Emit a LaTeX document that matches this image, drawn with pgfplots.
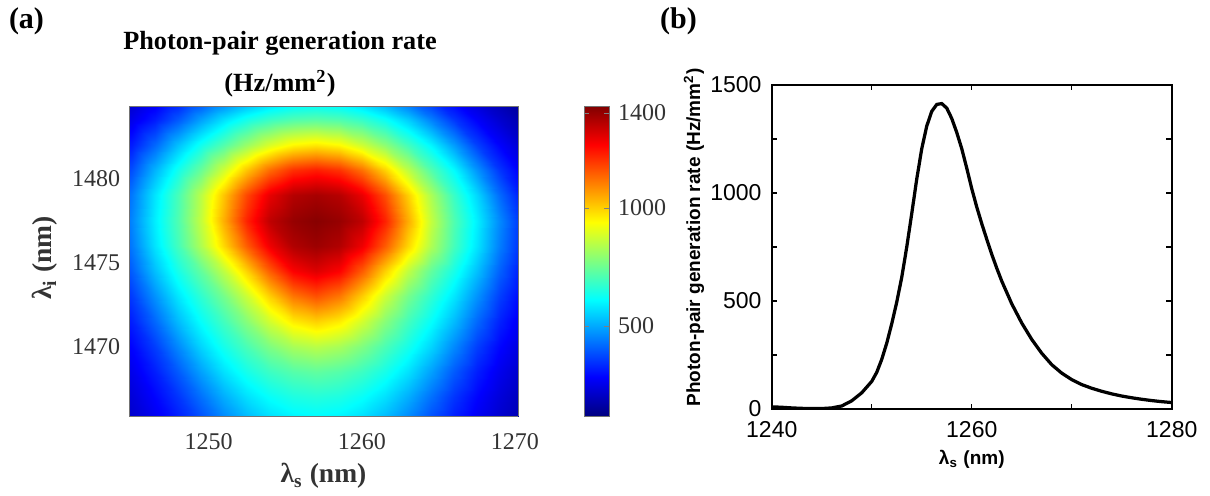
\documentclass[border=0pt]{standalone}
\usepackage{fontspec}
\setmainfont{Liberation Serif}
\newfontfamily\arial{Liberation Sans}
\usepackage{pgfplots}
\pgfplotsset{compat=1.18}
\pgfplotstableread{
x y z
1243.5 1465.5 176
1245 1465.5 216
1246.5 1465.5 261
1248 1465.5 313
1249.5 1465.5 375
1251 1465.5 447
1252.5 1465.5 509
1254 1465.5 557
1255.5 1465.5 583
1257 1465.5 592
1258.5 1465.5 583
1260 1465.5 557
1261.5 1465.5 509
1263 1465.5 447
1264.5 1465.5 375
1266 1465.5 313
1267.5 1465.5 261
1269 1465.5 216
1270.5 1465.5 176
1243.5 1467 191
1245 1467 235
1246.5 1467 287
1248 1467 350
1249.5 1467 428
1251 1467 507
1252.5 1467 572
1254 1467 618
1255.5 1467 647
1257 1467 657
1258.5 1467 647
1260 1467 618
1261.5 1467 572
1263 1467 507
1264.5 1467 428
1266 1467 350
1267.5 1467 287
1269 1467 235
1270.5 1467 191
1243.5 1468.5 210
1245 1468.5 259
1246.5 1468.5 320
1248 1468.5 399
1249.5 1468.5 490
1251 1468.5 574
1252.5 1468.5 638
1254 1468.5 687
1255.5 1468.5 719
1257 1468.5 734
1258.5 1468.5 719
1260 1468.5 687
1261.5 1468.5 638
1263 1468.5 574
1264.5 1468.5 490
1266 1468.5 399
1267.5 1468.5 320
1269 1468.5 259
1270.5 1468.5 210
1243.5 1470 231
1245 1470 288
1246.5 1470 362
1248 1470 459
1249.5 1470 557
1251 1470 637
1252.5 1470 705
1254 1470 772
1255.5 1470 824
1257 1470 846
1258.5 1470 824
1260 1470 772
1261.5 1470 705
1263 1470 637
1264.5 1470 557
1266 1470 459
1267.5 1470 362
1269 1470 288
1270.5 1470 231
1243.5 1471.5 254
1245 1471.5 323
1246.5 1471.5 416
1248 1471.5 523
1249.5 1471.5 615
1251 1471.5 695
1252.5 1471.5 783
1254 1471.5 879
1255.5 1471.5 960
1257 1471.5 994
1258.5 1471.5 960
1260 1471.5 879
1261.5 1471.5 783
1263 1471.5 695
1264.5 1471.5 615
1266 1471.5 523
1267.5 1471.5 416
1269 1471.5 323
1270.5 1471.5 254
1243.5 1473 281
1245 1473 362
1246.5 1473 472
1248 1473 581
1249.5 1473 671
1251 1473 762
1252.5 1473 874
1254 1473 1003
1255.5 1473 1115
1257 1473 1163
1258.5 1473 1115
1260 1473 1003
1261.5 1473 874
1263 1473 762
1264.5 1473 671
1266 1473 581
1267.5 1473 472
1269 1473 362
1270.5 1473 281
1243.5 1474.5 305
1245 1474.5 406
1246.5 1474.5 530
1248 1474.5 640
1249.5 1474.5 737
1251 1474.5 857
1252.5 1474.5 999
1254 1474.5 1150
1255.5 1474.5 1269
1257 1474.5 1309
1258.5 1474.5 1269
1260 1474.5 1150
1261.5 1474.5 999
1263 1474.5 857
1264.5 1474.5 737
1266 1474.5 640
1267.5 1474.5 530
1269 1474.5 406
1270.5 1474.5 305
1243.5 1476 328
1245 1476 443
1246.5 1476 578
1248 1476 698
1249.5 1476 835
1251 1476 990
1252.5 1476 1150
1254 1476 1287
1255.5 1476 1367
1257 1476 1393
1258.5 1476 1367
1260 1476 1287
1261.5 1476 1150
1263 1476 990
1264.5 1476 835
1266 1476 698
1267.5 1476 578
1269 1476 443
1270.5 1476 328
1243.5 1477.5 337
1245 1477.5 458
1246.5 1477.5 592
1248 1477.5 712
1249.5 1477.5 862
1251 1477.5 1045
1252.5 1477.5 1225
1254 1477.5 1350
1255.5 1477.5 1401
1257 1477.5 1420
1258.5 1477.5 1401
1260 1477.5 1350
1261.5 1477.5 1225
1263 1477.5 1045
1264.5 1477.5 862
1266 1477.5 712
1267.5 1477.5 592
1269 1477.5 458
1270.5 1477.5 337
1243.5 1479 325
1245 1479 441
1246.5 1479 579
1248 1479 703
1249.5 1479 850
1251 1479 1015
1252.5 1479 1178
1254 1479 1298
1255.5 1479 1362
1257 1479 1380
1258.5 1479 1361
1260 1479 1294
1261.5 1479 1168
1263 1479 1000
1264.5 1479 831
1266 1479 683
1267.5 1479 560
1269 1479 418
1270.5 1479 306
1243.5 1480.5 294
1245 1480.5 386
1246.5 1480.5 515
1248 1480.5 635
1249.5 1480.5 745
1251 1480.5 879
1252.5 1480.5 1016
1254 1480.5 1131
1255.5 1480.5 1206
1257 1480.5 1230
1258.5 1480.5 1203
1260 1480.5 1122
1261.5 1480.5 997
1263 1480.5 853
1264.5 1480.5 717
1266 1480.5 608
1267.5 1480.5 473
1269 1480.5 349
1270.5 1480.5 265
1243.5 1482 251
1245 1482 320
1246.5 1482 417
1248 1482 531
1249.5 1482 632
1251 1482 718
1252.5 1482 809
1254 1482 891
1255.5 1482 948
1257 1482 968
1258.5 1482 944
1260 1482 875
1261.5 1482 792
1263 1482 695
1264.5 1482 600
1266 1482 485
1267.5 1482 365
1269 1482 281
1270.5 1482 218
1243.5 1483.5 207
1245 1483.5 255
1246.5 1483.5 315
1248 1483.5 394
1249.5 1483.5 487
1251 1483.5 570
1252.5 1483.5 635
1254 1483.5 681
1255.5 1483.5 710
1257 1483.5 720
1258.5 1483.5 708
1260 1483.5 674
1261.5 1483.5 619
1263 1483.5 543
1264.5 1483.5 446
1266 1483.5 350
1267.5 1483.5 277
1269 1483.5 220
1270.5 1483.5 173
1243.5 1485 163
1245 1485 199
1246.5 1485 239
1248 1485 284
1249.5 1485 336
1251 1485 392
1252.5 1485 449
1254 1485 494
1255.5 1485 522
1257 1485 531
1258.5 1485 520
1260 1485 486
1261.5 1485 432
1263 1485 365
1264.5 1485 304
1266 1485 252
1267.5 1485 207
1269 1485 166
1270.5 1485 131
}\maptable
\pgfplotstableread{
x y
1240 10
1241 8
1242 5
1243 3
1244 2
1245 2
1246 5
1247 14
1248 38
1249 75
1250 128
1250.5 170
1251 230
1251.5 305
1252 395
1252.5 495
1253 610
1253.5 750
1254 905
1254.5 1065
1255 1205
1255.5 1310
1256 1378
1256.5 1410
1257 1414
1257.5 1393
1258 1345
1258.5 1280
1259 1205
1259.5 1115
1260 1020
1260.5 935
1261 858
1261.5 786
1262 716
1262.5 652
1263 592
1264 487
1265 398
1266 322
1267 258
1268 205
1269 166
1270 136
1271 113
1272 96
1273 82
1274 70
1275 60
1276 52
1277 45
1278 39
1279 34
1280 30
}\spectable
\begin{document}
\begin{tikzpicture}
\useasboundingbox (0,0) rectangle (484pt,198pt);
% ---------- panel (a)
\begin{axis}[
  at={(51.6pt,31.6pt)}, anchor=south west,
  scale only axis, width=155.6pt, height=124pt,
  view={0}{90},
  xmin=1244.8, xmax=1270.2, ymin=1465.9, ymax=1484.3,
  xtick={1250,1260,1270}, ytick={1470,1475,1480},
  major tick length=0pt,
  /pgf/number format/assume math mode=true,
  /pgf/number format/set thousands separator={},
  tick label style={font=\fontsize{9.6}{11}\selectfont, text=black!80},
  xticklabel style={yshift=-3.5pt},
  axis line style={draw=black!55, line width=0.3pt},
  xlabel={\textbf{λ\textsubscript{s} (nm)}},
  ylabel={\textbf{λ\textsubscript{i} (nm)}},
  label style={font=\fontsize{11}{13}\selectfont, text=black!80},
  xlabel style={at={(axis description cs:0.5,-0.216)}, anchor=base},
  ylabel style={at={(axis description cs:-0.198,0.51)}, anchor=base},
  colormap/jet,
  point meta min=120, point meta max=1430,
  colorbar,
  colorbar shift/.style={xshift=14.8pt},
  colorbar style={
    width=10pt,
    ytick={500,1000,1400},
    major tick length=2pt,
    tick align=inside,
    /pgf/number format/assume math mode=true,
    /pgf/number format/set thousands separator={},
    yticklabel style={font=\fontsize{9.6}{11}\selectfont, text=black!80},
    axis line style={draw=black!55, line width=0.3pt},
  },
]
\addplot3[surf, shader=interp, mesh/cols=19] table[x=x, y=y, z=z] {\maptable};
\end{axis}
\node[font=\bfseries\fontsize{10.5}{12.5}\selectfont, anchor=base] at (112pt,178pt) {Photon-pair generation rate};
\node[font=\bfseries\fontsize{10.5}{12.5}\selectfont, anchor=base] at (112pt,161.2pt) {(Hz/mm\textsuperscript{2})};
\node[font=\bfseries\fontsize{12}{14}\selectfont] at (10.6pt,189.6pt) {(a)};
\node[font=\bfseries\fontsize{12}{14}\selectfont] at (271.4pt,189.6pt) {(b)};
% ---------- panel (b)
\begin{axis}[
  at={(308.7pt,34.4pt)}, anchor=south west,
  scale only axis, width=160pt, height=129.6pt,
  xmin=1240, xmax=1280, ymin=0, ymax=1500,
  xtick={1240,1250,1260,1270,1280}, xticklabels={1240,,1260,,1280},
  ytick={0,250,500,750,1000,1250,1500}, yticklabels={0,,500,,1000,,1500},
  tick align=inside, major tick length=2.2pt,
  tick style={black, line width=0.5pt},
  axis line style={black, line width=0.6pt},
  /pgf/number format/assume math mode=true,
  tick label style={font=\arial\fontsize{9.2}{11}\selectfont},
  xticklabel style={yshift=-1.6pt},
  yticklabel style={xshift=-0.6pt},
  xlabel={\arial\bfseries λ\textsubscript{s} (nm)},
  ylabel={\arial\bfseries Photon-pair generation rate (Hz/mm\textsuperscript{2})},
  label style={font=\fontsize{7.6}{9}\selectfont},
  xlabel style={at={(axis description cs:0.5,-0.156)}, anchor=center},
  ylabel style={at={(axis description cs:-0.179,0.53)}, anchor=base},
]
\addplot[black, line width=1.3pt] table[x=x, y=y] {\spectable};
\end{axis}
\end{tikzpicture}
\end{document}
